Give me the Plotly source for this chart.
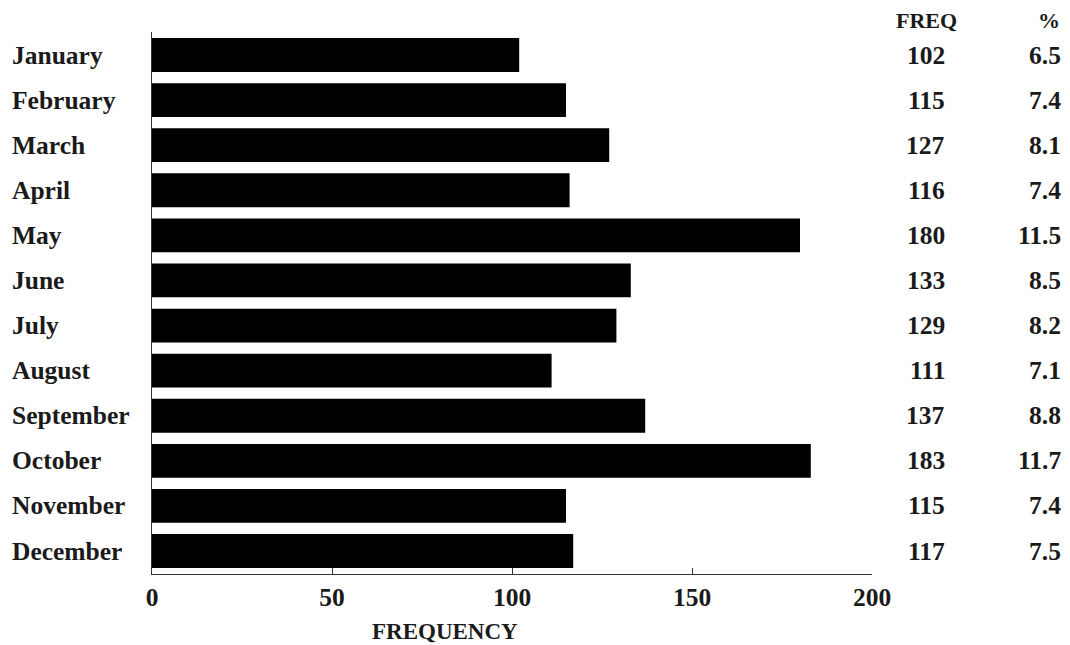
import plotly.graph_objects as go

months = ["January", "February", "March", "April", "May", "June", "July",
          "August", "September", "October", "November", "December"]
freq = [102, 115, 127, 116, 180, 133, 129, 111, 137, 183, 115, 117]
pct = ["6.5", "7.4", "8.1", "7.4", "11.5", "8.5", "8.2", "7.1", "8.8", "11.7", "7.4", "7.5"]
xticks = [0, 50, 100, 150, 200]

FONT = "Liberation Serif"
TXT = "#1a1a1a"
FS = 25.5
idx = list(range(len(months)))

fig = go.Figure()
fig.add_trace(go.Bar(
    x=freq, y=idx, orientation="h",
    marker=dict(color="black", line=dict(width=0)),
    width=0.75, hoverinfo="skip", showlegend=False,
))

ann = []
for i, m in enumerate(months):
    ann.append(dict(x=0, xref="paper", xshift=-142, y=i, yref="y", text="<b>%s</b>" % m,
                    xanchor="left", yanchor="middle", showarrow=False,
                    font=dict(family=FONT, size=25.5, color=TXT)))
    ann.append(dict(x=1, xref="paper", xshift=75, y=i, yref="y", text="<b>%d</b>" % freq[i],
                    xanchor="right", yanchor="middle", showarrow=False,
                    font=dict(family=FONT, size=FS, color=TXT)))
    ann.append(dict(x=1, xref="paper", xshift=191, y=i, yref="y", text="<b>%s</b>" % pct[i],
                    xanchor="right", yanchor="middle", showarrow=False,
                    font=dict(family=FONT, size=FS, color=TXT)))

ann.append(dict(x=1, xref="paper", xshift=54, y=1, yref="paper", yshift=12, text="<b>FREQ</b>",
                xanchor="center", yanchor="middle", showarrow=False,
                font=dict(family=FONT, size=22, color=TXT)))
ann.append(dict(x=1, xref="paper", xshift=190, y=1, yref="paper", yshift=12, text="<b>%</b>",
                xanchor="right", yanchor="middle", showarrow=False,
                font=dict(family=FONT, size=22, color=TXT)))
ann.append(dict(x=81.5, xref="x", y=0, yref="paper", yshift=-57, text="<b>FREQUENCY</b>",
                xanchor="center", yanchor="middle", showarrow=False,
                font=dict(family=FONT, size=23, color=TXT)))

fig.update_layout(
    width=1062, height=637,
    margin=dict(l=144, r=198, t=24, b=71),
    paper_bgcolor="white", plot_bgcolor="white",
    annotations=ann,
    xaxis=dict(range=[0, 200], tickvals=xticks, ticktext=["<b>%d</b>" % v for v in xticks],
               showgrid=False, zeroline=False, showline=True, linecolor="#333", linewidth=1.2,
               ticks="inside", ticklen=6, tickcolor="#333", tickwidth=1.2,
               tickfont=dict(family=FONT, size=FS, color=TXT), ticklabelstandoff=0,
               fixedrange=True),
    yaxis=dict(range=[11.51, -0.51], showgrid=False, zeroline=False, showline=True,
               linecolor="#333", linewidth=1.2, showticklabels=False, ticks="",
               fixedrange=True),
)
fig.write_html("out.html", config={"displayModeBar": False})
